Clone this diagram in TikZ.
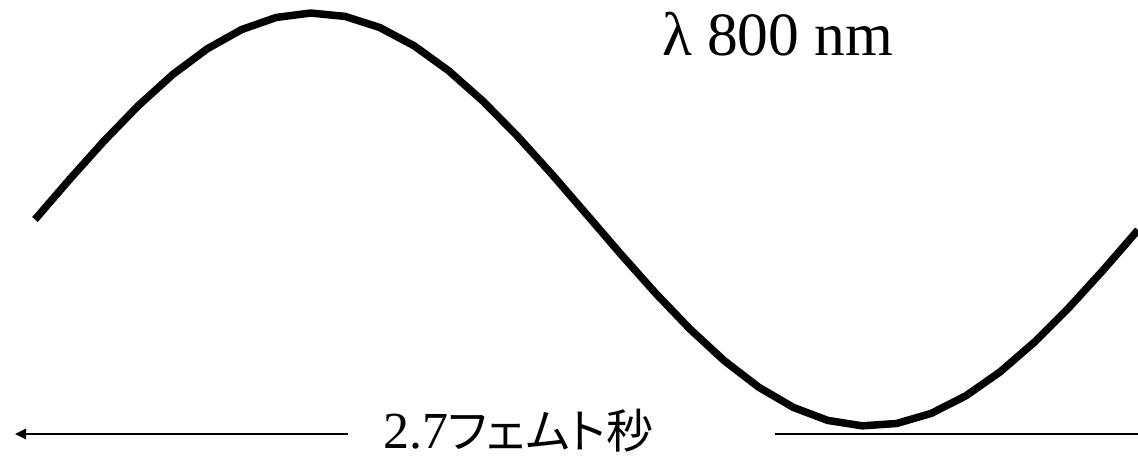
\documentclass[tikz,border=0pt]{standalone}
\usepackage{fontspec}
\setmainfont{Liberation Serif}
\newfontfamily\jp[RawFeature=+palt]{Noto Sans CJK JP}
\usetikzlibrary{arrows.meta}
\tikzset{
  wave/.style={line width=7.5pt, line join=round},
  scaleline/.style={line width=2.5pt},
  lbl/.style={inner sep=0pt, outer sep=0pt, text=black}
}
\begin{document}
\begin{tikzpicture}[x=1pt,y=-1pt]
\useasboundingbox (0,0) rectangle (1138,464);
\draw[wave] plot[domain=35:1138, samples=33] (\x, {219.5-206.5*sin(0.323741*(\x-35))});
\node[lbl, anchor=base west] (lam) at (662,55) {\fontsize{61.5}{68}\selectfont λ 800 nm};
\node[lbl, anchor=base west] (per) at (383,448) {\fontsize{52}{58}\selectfont 2.7{\jp\fontsize{47}{54}\selectfont フェムト秒}};
\coordinate (la) at (348,434);
\coordinate (lb) at (15,434);
\coordinate (ra) at (775,434);
\coordinate (rb) at (1138,434);
\draw[scaleline, -{Triangle[length=11pt,width=10pt]}] (la) -- (lb);
\draw[scaleline] (ra) -- (rb);
\end{tikzpicture}
\end{document}
